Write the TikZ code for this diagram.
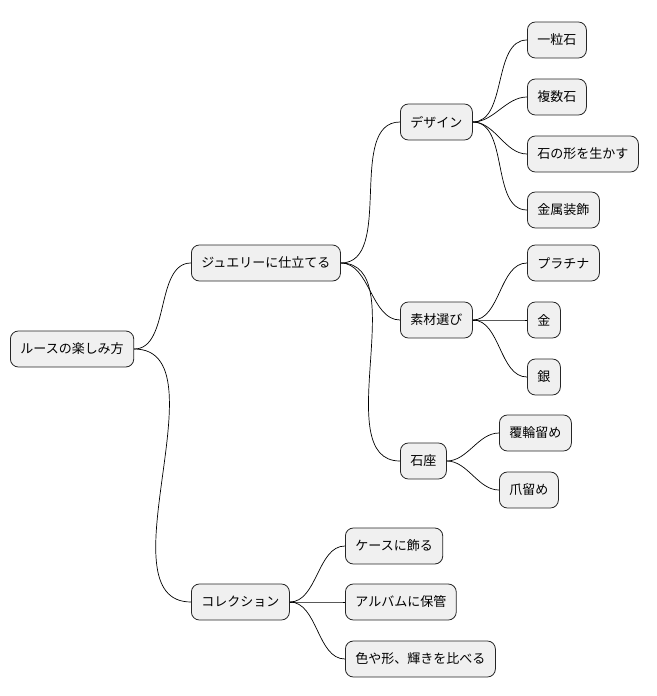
\documentclass[tikz,border=0pt]{standalone}
\usepackage{fontspec}
\setmainfont{Noto Sans CJK JP}
\begin{document}
\begin{tikzpicture}[x=1pt,y=-1pt,
  box/.style={draw=black!85,line width=0.8pt,fill=black!6,rounded corners=8pt,minimum height=36pt,inner xsep=10pt,anchor=west,font=\fontsize{13}{15}\selectfont},
  link/.style={draw=black,line width=0.7pt}]
\useasboundingbox (0,0) rectangle (656,696);
\node[box] (r) at (10,349) {ルースの楽しみ方};
\node[box] (j) at (191,263) {ジュエリーに仕立てる};
\node[box] (c) at (191,602) {コレクション};
\node[box] (d) at (400,122) {デザイン};
\node[box] (m) at (400,320) {素材選び};
\node[box] (s) at (400,461) {石座};
\node[box] (d1) at (527,40) {一粒石};
\node[box] (d2) at (527,97) {複数石};
\node[box] (d3) at (527,154) {石の形を生かす};
\node[box] (d4) at (527,210) {金属装飾};
\node[box] (m1) at (527,263) {プラチナ};
\node[box] (m2) at (527,320) {金};
\node[box] (m3) at (527,377) {銀};
\node[box] (s1) at (499,433) {覆輪留め};
\node[box] (s2) at (499,490) {爪留め};
\node[box] (c1) at (345,546) {ケースに飾る};
\node[box] (c2) at (345,602) {アルバムに保管};
\node[box] (c3) at (345,659) {色や形、輝きを比べる};
\foreach \p/\c in {r/j,r/c,j/d,j/m,j/s,d/d1,d/d2,d/d3,d/d4,m/m1,m/m2,m/m3,s/s1,s/s2,c/c1,c/c2,c/c3}
  \draw[link] (\p.east) to[out=0,in=180,looseness=0.9] (\c.west);
\end{tikzpicture}
\end{document}
